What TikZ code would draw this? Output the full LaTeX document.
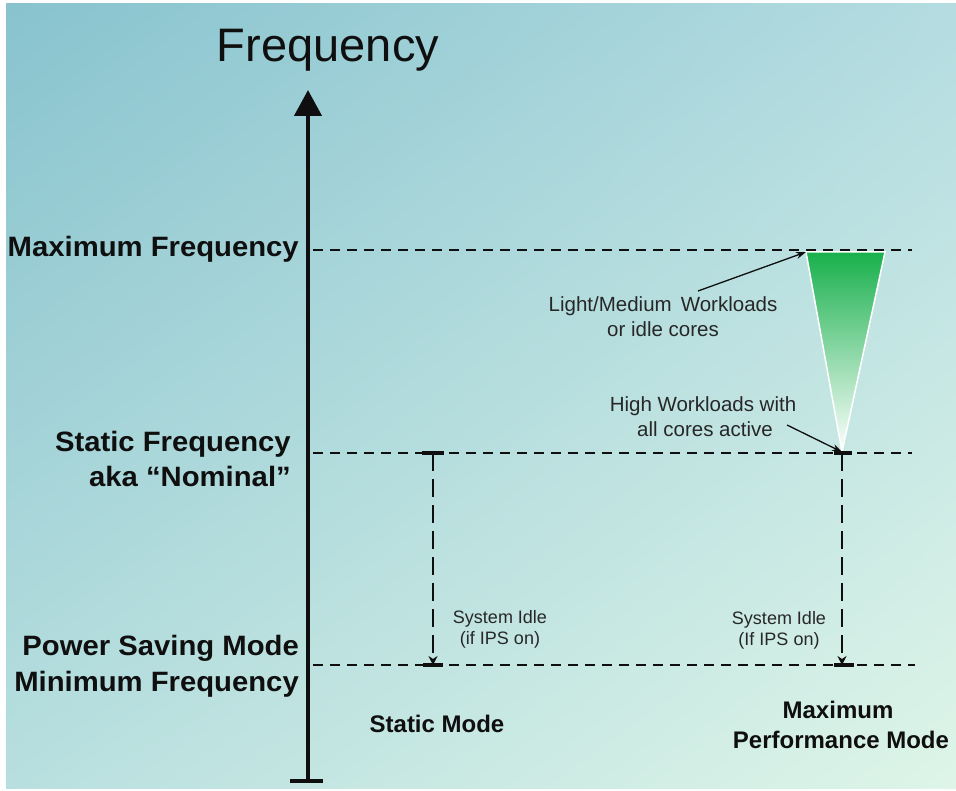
\documentclass[tikz,border=0pt]{standalone}
\usepackage{fontspec}
\setmainfont{Liberation Sans}
\newfontfamily\widebold[FakeStretch=1.045]{Liberation Sans Bold}
\usetikzlibrary{arrows.meta,shadings}
\definecolor{bgTL}{RGB}{136,195,206}
\definecolor{bgTR}{RGB}{180,220,225}
\definecolor{bgBL}{RGB}{184,223,223}
\definecolor{bgBR}{RGB}{222,245,232}
\definecolor{ink}{RGB}{15,15,15}
\definecolor{wlgreen}{RGB}{24,176,76}
\definecolor{wlmid}{RGB}{110,192,132}
\begin{document}
\begin{tikzpicture}[x=1pt,y=-1pt,
  lvl/.style={dash pattern=on 10pt off 7pt, line width=2.8pt, ink},
  drop/.style={dash pattern=on 18pt off 8pt, line width=2.6pt, ink, -{Stealth[length=9pt,width=9pt]}},
  tbar/.style={line width=3.2pt, ink},
  pointer/.style={line width=1.3pt, ink, -{Stealth[length=10pt,width=7pt]}},
  biglbl/.style={font=\widebold\fontsize{28}{28}\selectfont, text=ink, inner sep=0pt, anchor=base east},
  modelbl/.style={font=\bfseries\fontsize{24}{24}\selectfont, text=ink, inner sep=0pt, anchor=base},
  small/.style={font=\fontsize{18}{18}\selectfont, text=ink!90, inner sep=0pt, anchor=base},
  note/.style={font=\fontsize{20.5}{20.5}\selectfont, text=ink!90, inner sep=0pt, anchor=base}]
\useasboundingbox (0,0) rectangle (956,791);
\fill[white] (0,0) rectangle (956,791);
\shade[upper left=bgTL, upper right=bgTR, lower left=bgBL, lower right=bgBR] (6,4) rectangle (956,788);

% axis
\coordinate (axbot) at (308,781);
\coordinate (axtop) at (308,90);
\coordinate (axbl) at (290,781);
\coordinate (axbr) at (323,781);
\draw[line width=4.5pt, ink, -{Triangle[length=26pt,width=27pt]}] (axbot) -- (axtop);
\draw[tbar] (axbl) -- (axbr);
\node[font=\fontsize{47}{47}\selectfont, text=ink, inner sep=0pt, anchor=base] (title) at (328,62) {Frequency};

% level lines
\coordinate (maxL) at (313,250);  \coordinate (maxR) at (912,250);
\coordinate (nomL) at (313,453);  \coordinate (nomR) at (912,453);
\coordinate (minL) at (313,665);  \coordinate (minR) at (915,665);
\draw[lvl] (maxL) -- (maxR);
\draw[lvl] (nomL) -- (nomR);
\draw[lvl] (minL) -- (minR);

% left labels
\node[biglbl] (lmax) at (299,257) {Maximum Frequency};
\node[biglbl] (lnom1) at (291,452) {Static Frequency};
\node[biglbl] (lnom2) at (291,486) {aka “Nominal”};
\node[biglbl] (lmin1) at (299,655) {Power Saving Mode};
\node[biglbl] (lmin2) at (299,691) {Minimum Frequency};

% workload triangle
\coordinate (triL) at (806,252);
\coordinate (triR) at (885,252);
\coordinate (triT) at (842,452);
\shade[top color=wlgreen, middle color=wlmid, bottom color=white, draw=white, line width=1.5pt]
  (triL) -- (triR) -- (triT) -- cycle;

% workload notes
\node[note] (lw1) at (663,312) {Light/Medium\, Workloads};
\node[note] (lw2) at (663,337) {or idle cores};
\node[note] (hw1) at (703,412) {High Workloads with};
\node[note] (hw2) at (705,437) {all cores active};
\coordinate (lwS) at (698,291);
\coordinate (hwS) at (787,425);
\draw[pointer] (lwS) -- (triL);
\draw[pointer] (hwS) -- (triT);

% static mode drop
\coordinate (sTop) at (433,453);
\coordinate (sBot) at (433,665);
\coordinate (sTopL) at (422,453); \coordinate (sTopR) at (444,453);
\coordinate (sBotL) at (423,665); \coordinate (sBotR) at (443,665);
\draw[drop] (sTop) -- (sBot);
\draw[tbar] (sTopL) -- (sTopR);
\draw[tbar] (sBotL) -- (sBotR);
\node[small] (si1) at (500,623) {System Idle};
\node[small] (si2) at (500,644) {(if IPS on)};
\node[modelbl] (smode) at (437,732) {Static Mode};

% max performance drop
\coordinate (mTop) at (842,453);
\coordinate (mBot) at (842,665);
\coordinate (mTopL) at (834,453); \coordinate (mTopR) at (852,453);
\coordinate (mBotL) at (834,665); \coordinate (mBotR) at (854,665);
\draw[drop] (mTop) -- (mBot);
\draw[tbar] (mTopL) -- (mTopR);
\draw[tbar] (mBotL) -- (mBotR);
\node[small] (mi1) at (779,624) {System Idle};
\node[small] (mi2) at (779,645) {(If IPS on)};
\node[modelbl] (mm1) at (838,718) {Maximum};
\node[modelbl] (mm2) at (841,748) {Performance Mode};
\end{tikzpicture}
\end{document}
